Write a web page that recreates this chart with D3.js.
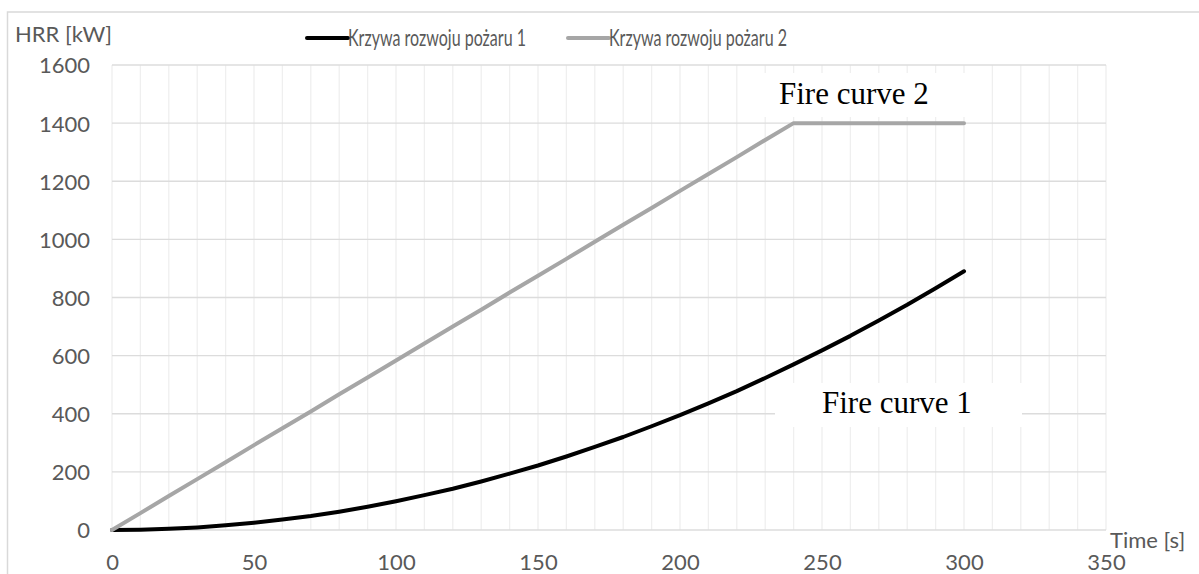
<!DOCTYPE html>
<html><head><meta charset="utf-8">
<script src="https://cdn.jsdelivr.net/npm/d3@7"></script>
<style>
html,body{margin:0;padding:0;background:#fff;}
svg{display:block;}
</style></head>
<body>
<svg id="c" width="1199" height="574"></svg>
<script>
// ---- data ----
const times = [0,10,20,30,40,50,60,70,80,90,100,110,120,130,140,150,160,170,180,190,200,210,220,230,240,250,260,270,280,290,300];
const curve1 = [0,1,4,9,16,25,36,48,63,80,99,120,142,167,194,222,253,286,320,357,395,436,478,523,570,618,668,721,775,832,890];
const curve2 = [0,58,117,175,233,292,350,408,467,525,583,642,700,758,817,875,933,992,1050,1108,1167,1225,1283,1342,1400,1400,1400,1400,1400,1400,1400];
const seriesNames = ["Krzywa rozwoju pożaru 1","Krzywa rozwoju pożaru 2"];
const xTicks = [0,50,100,150,200,250,300,350];
const yTicks = [0,200,400,600,800,1000,1200,1400,1600];
const xMinor = d3.range(0,351,10);
const annotations = ["Fire curve 1","Fire curve 2"];

// ---- layout ----
const svg = d3.select("#c");
const font = "Lato, 'Open Sans', sans-serif";
const x = d3.scaleLinear().domain([0,350]).range([112,1106]);
const y = d3.scaleLinear().domain([0,1600]).range([530,65]);
const colors = ["#000000","#a6a6a6"];

// outer border
svg.append("rect").attr("x",7.5).attr("y",12).attr("width",1250).attr("height",700)
  .attr("fill","#fff").attr("stroke","#d9d9d9").attr("stroke-width",1.5);

// vertical minor grid
svg.append("g").selectAll("line").data(xMinor).join("line")
  .attr("x1",d=>x(d)).attr("x2",d=>x(d)).attr("y1",y(1600)).attr("y2",y(0))
  .attr("stroke","#efefef").attr("stroke-width",1.3);
// horizontal grid
svg.append("g").selectAll("line").data(yTicks).join("line")
  .attr("x1",x(0)).attr("x2",x(350)).attr("y1",d=>y(d)).attr("y2",d=>y(d))
  .attr("stroke","#dcdcdc").attr("stroke-width",1.3);

// axes labels
const yAxis = d3.axisLeft(y).tickValues(yTicks).tickFormat(d3.format("d")).tickSize(0).tickPadding(22);
const gy = svg.append("g").attr("transform",`translate(${x(0)},0)`).call(yAxis);
gy.select(".domain").remove();
gy.selectAll("text").attr("font-family",font).attr("font-size",22).attr("fill","#595959").attr("dy","0.36em");

const xAxis = d3.axisBottom(x).tickValues(xTicks).tickFormat(d3.format("d")).tickSize(0).tickPadding(24);
const gx = svg.append("g").attr("transform",`translate(0,${y(0)})`).call(xAxis);
gx.select(".domain").remove();
gx.selectAll("text").attr("font-family",font).attr("font-size",22).attr("fill","#595959").attr("dy","0.71em");

svg.append("text").attr("x",15).attr("y",42).text("HRR [kW]")
  .attr("font-family",font).attr("font-size",22).attr("fill","#595959");
svg.append("text").attr("x",1110).attr("y",548).text("Time [s]")
  .attr("font-family",font).attr("font-size",22).attr("fill","#595959");

// annotation boxes
svg.append("rect").attr("x",745).attr("y",73).attr("width",228).attr("height",44).attr("fill","#fff");
svg.append("rect").attr("x",775).attr("y",383).attr("width",247).attr("height",44).attr("fill","#fff");

// lines
const line = d3.line().x((d,i)=>x(times[i])).y(d=>y(d)).curve(d3.curveLinear);
[curve1,curve2].forEach((s,k)=>{
  svg.append("path").datum(s).attr("d",line).attr("fill","none")
    .attr("stroke",colors[k]).attr("stroke-width",4).attr("stroke-linecap","round").attr("stroke-linejoin","round");
});

// annotation text
svg.append("text").attr("x",822).attr("y",413).text(annotations[0])
  .attr("font-family","'Liberation Serif','Times New Roman',serif").attr("font-size",31).attr("fill","#000");
svg.append("text").attr("x",779).attr("y",104).text(annotations[1])
  .attr("font-family","'Liberation Serif','Times New Roman',serif").attr("font-size",31).attr("fill","#000");

// legend
const legX = [307,568];
seriesNames.forEach((n,k)=>{
  svg.append("line").attr("x1",legX[k]).attr("x2",legX[k]+41).attr("y1",38).attr("y2",38)
    .attr("stroke",colors[k]).attr("stroke-width",4).attr("stroke-linecap","round");
  svg.append("text").attr("x",legX[k]+41).attr("y",46).text(n)
    .attr("font-family",font).attr("font-size",24).attr("fill","#595959")
    .attr("textLength",178).attr("lengthAdjust","spacingAndGlyphs");
});
</script>
</body></html>
